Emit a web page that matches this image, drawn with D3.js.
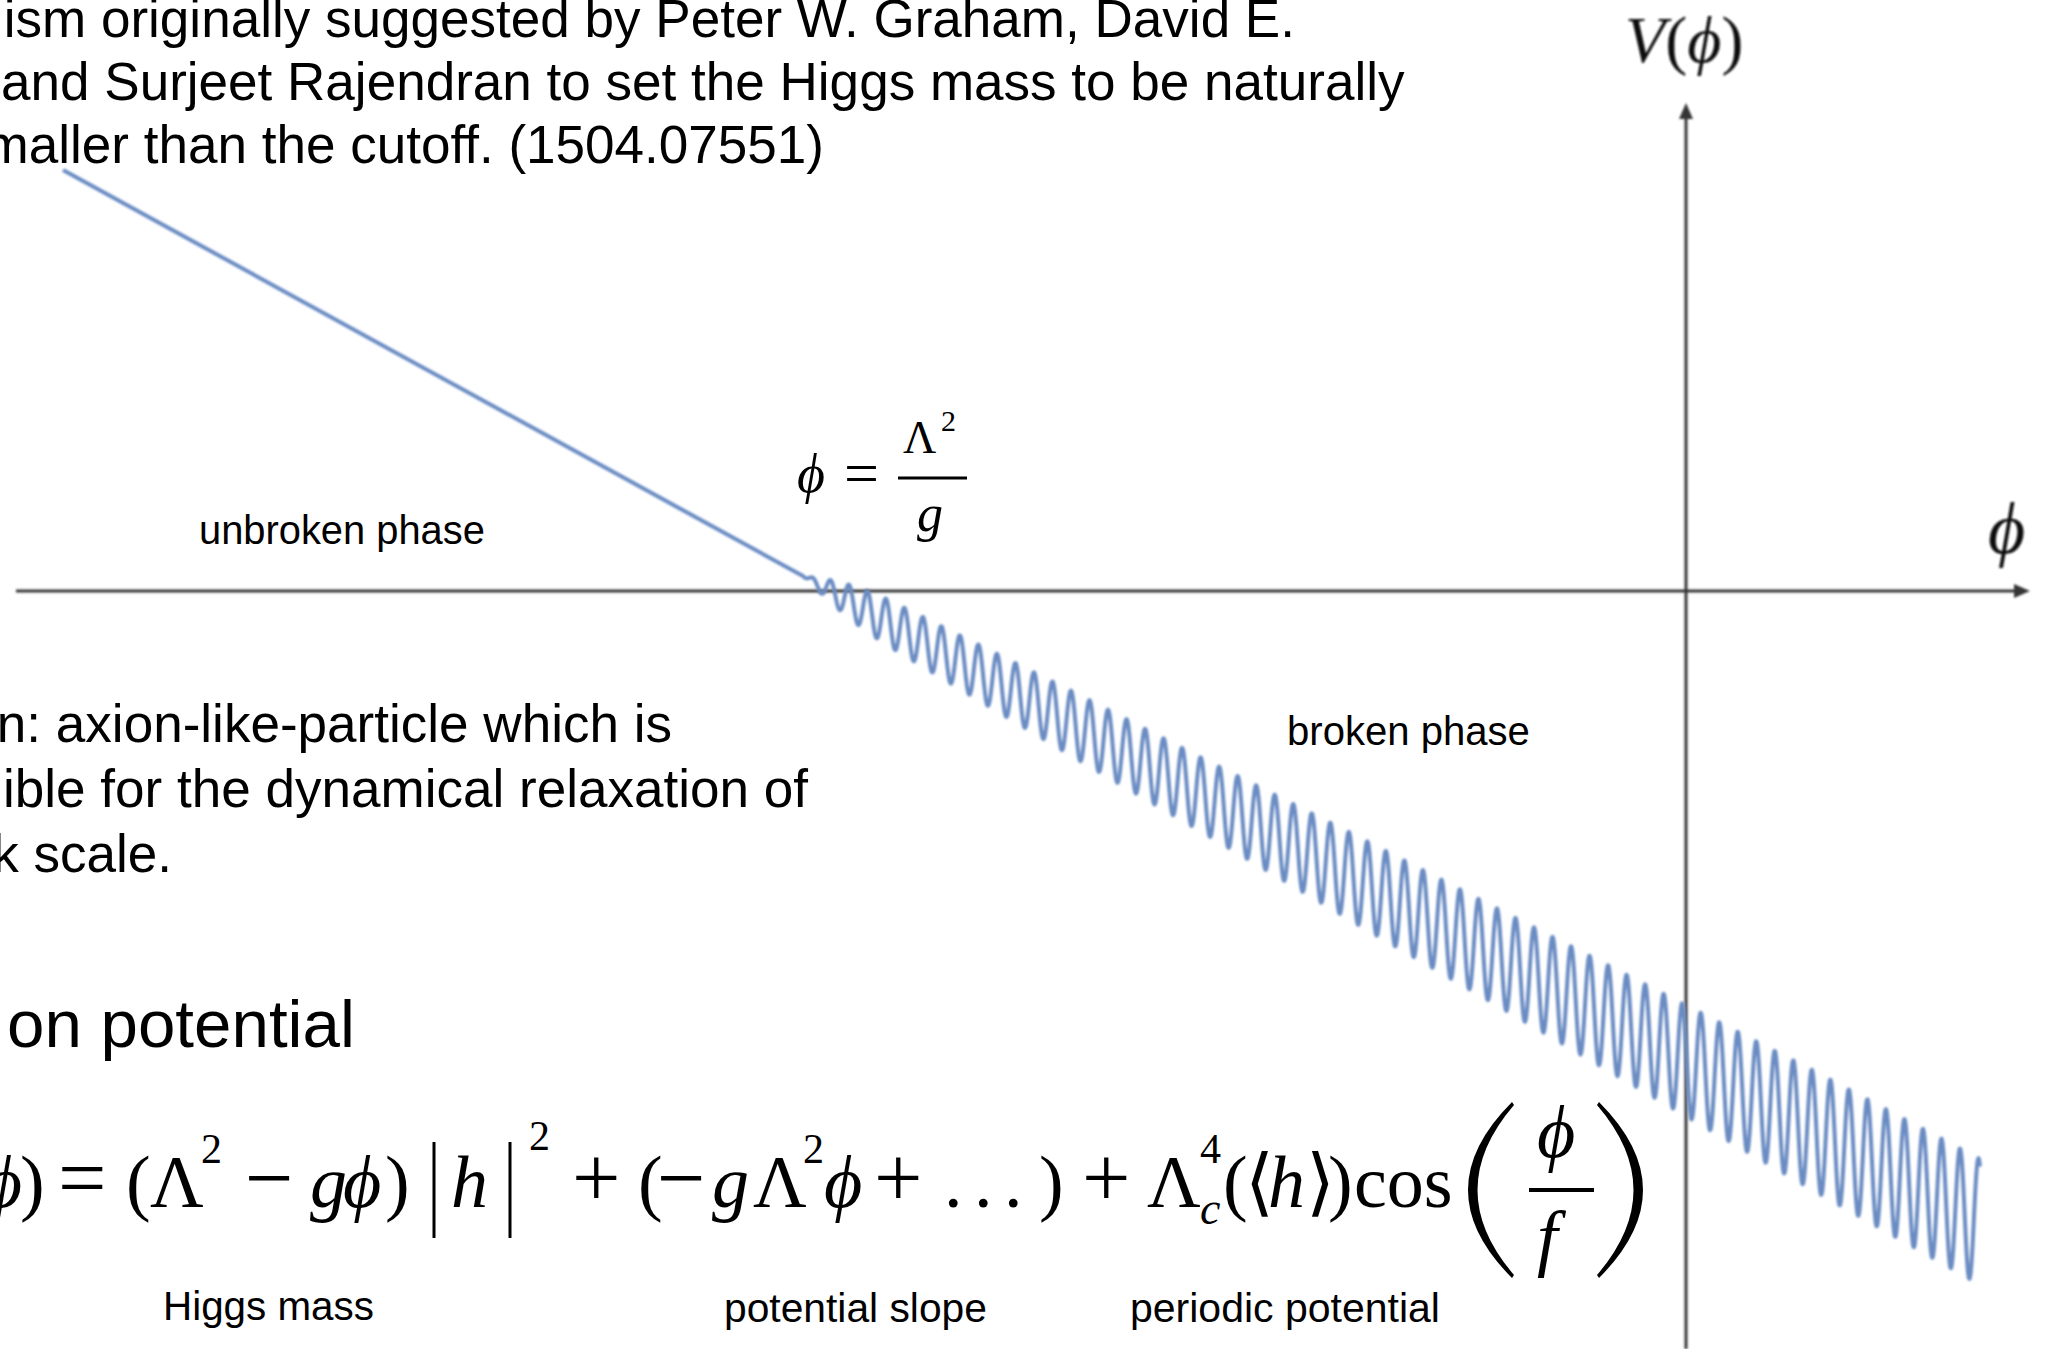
<!DOCTYPE html>
<html>
<head>
<meta charset="utf-8">
<script src="https://cdn.jsdelivr.net/npm/d3@7"></script>
<style>
  html, body { margin: 0; padding: 0; background: #fff; overflow: hidden; }
  svg { display: block; }
</style>
</head>
<body>
<svg id="chart" width="2045" height="1349"></svg>
<script>
// ---- relaxion potential V(ϕ) -------------------------------------------
// axis extents (the axes cross at ϕ = 0, V = 0)
const phiExtent = [-16.7, 3.44];
const vExtent = [-7.58, 4.88];
// slope term −gΛ²ϕ : end points of the drawn potential
const slopePhi = [-16.23, 2.94];
const slopeV = [4.21, -6.31];
// the periodic barrier switches on at ϕ = Λ²/g (Higgs gets a vev)
const onsetPhi = -8.83;
// cos(ϕ/f) : period and the position of one crest
const wigglePeriod = 0.1852;
const wiggleCrestPhi = -8.557;
// barrier height Λc⁴(⟨h⟩) along ϕ
const envelopePhi = [-8.83, -8.56, -8.38, -8.19, -8.00, -7.63, -6.15, -4.85, -3.19, -1.89, -0.97, 1.26, 2.74, 2.94];
const envelopeAmp = [0, 0.11, 0.165, 0.205, 0.23, 0.25, 0.325, 0.37, 0.445, 0.485, 0.52, 0.60, 0.625, 0.63];

// ---- slide text ---------------------------------------------------------
const introLines = [
  "ism originally suggested by Peter W. Graham, David E.",
  "and Surjeet Rajendran to set the Higgs mass to be naturally",
  "maller than the cutoff. (1504.07551)"
];
const relaxionLines = [
  "n: axion-like-particle which is",
  "ible for the dynamical relaxation of",
  "k scale."
];
const heading = "on potential";
const phaseLabels = ["unbroken phase", "broken phase"];
const termLabels = ["Higgs mass", "potential slope", "periodic potential"];

// -------------------------------------------------------------------------
const W = 2045, H = 1349;
const svg = d3.select("#chart");
svg.append("rect").attr("width", W).attr("height", H).attr("fill", "#fff");

const defs = svg.append("defs");
defs.append("filter").attr("id", "soft")
  .attr("x", "-5%").attr("y", "-5%").attr("width", "110%").attr("height", "110%")
  .append("feGaussianBlur").attr("stdDeviation", 0.8);

const x = d3.scaleLinear().domain(phiExtent).range([16, 2030]);
const y = d3.scaleLinear().domain(vExtent).range([H, 103]);
const slope = d3.scaleLinear().domain(slopePhi).range(slopeV);
const envelope = d3.scaleLinear().domain(envelopePhi).range(envelopeAmp).clamp(true);

const SANS = "'Liberation Sans', Arial, Helvetica, sans-serif";
const SERIF = "'Liberation Serif', 'Times New Roman', 'DejaVu Serif', serif";

// scale a text's font size so its advance matches a given width
function fitWidth(sel, width) {
  const w = sel.node().getComputedTextLength();
  const fs = parseFloat(sel.attr("font-size"));
  sel.attr("font-size", fs * width / w);
  return fs * width / w;
}

// ---- axes ----------------------------------------------------------------
const axes = svg.append("g").attr("filter", "url(#soft)");
const axisColor = "#363636";
const x0 = x(0), y0 = y(0);
axes.append("line")
  .attr("x1", x(phiExtent[0])).attr("x2", x(phiExtent[1]) - 8)
  .attr("y1", y0).attr("y2", y0)
  .attr("stroke", axisColor).attr("stroke-width", 3);
axes.append("path")
  .attr("d", `M${x(phiExtent[1])},${y0} L${x(phiExtent[1]) - 16},${y0 - 7} L${x(phiExtent[1]) - 16},${y0 + 7} Z`)
  .attr("fill", axisColor);
axes.append("line")
  .attr("x1", x0).attr("x2", x0)
  .attr("y1", y(vExtent[0])).attr("y2", y(vExtent[1]) + 8)
  .attr("stroke", axisColor).attr("stroke-width", 3);
axes.append("path")
  .attr("d", `M${x0},${y(vExtent[1])} L${x0 - 7},${y(vExtent[1]) + 16} L${x0 + 7},${y(vExtent[1]) + 16} Z`)
  .attr("fill", axisColor);

// ---- potential curve -----------------------------------------------------
const V = p => slope(p) + envelope(p) * Math.cos(2 * Math.PI * (p - wiggleCrestPhi) / wigglePeriod);
const pts = [[slopePhi[0], slopeV[0]]];
const step = (x.invert(1) - x.invert(0)) / 2;
for (let p = onsetPhi; p < slopePhi[1]; p += step) pts.push([p, V(p)]);
pts.push([slopePhi[1], V(slopePhi[1])]);

svg.append("path")
  .datum(pts)
  .attr("d", d3.line().x(d => x(d[0])).y(d => y(d[1])))
  .attr("fill", "none")
  .attr("stroke", "#6a8cc3")
  .attr("stroke-width", 4)
  .attr("stroke-linejoin", "round")
  .attr("filter", "url(#soft)");

// ---- body text -----------------------------------------------------------
const body = svg.append("g").attr("font-family", SANS).attr("fill", "#000");
const l2 = body.append("text").attr("x", 1).attr("y", 100).attr("font-size", 52).text(introLines[1]);
const bodySize = fitWidth(l2, 1404);
body.append("text").attr("x", 1295).attr("y", 37).attr("text-anchor", "end")
  .attr("font-size", bodySize).text(introLines[0]);
body.append("text").attr("x", 824).attr("y", 163).attr("text-anchor", "end")
  .attr("font-size", bodySize).text(introLines[2]);

const relaxY = [742, 807, 872];
const relaxEnd = [672, 808, 172];
relaxionLines.forEach((t, i) => {
  body.append("text").attr("x", relaxEnd[i]).attr("y", relaxY[i]).attr("text-anchor", "end")
    .attr("font-size", bodySize).text(t);
});

const head = body.append("text").attr("x", 7).attr("y", 1047).attr("font-size", 64).text(heading);
fitWidth(head, 348);

// small labels
const small = [
  { t: phaseLabels[0], x: 199, y: 544, w: 286 },
  { t: phaseLabels[1], x: 1287, y: 745, w: 243 },
  { t: termLabels[0], x: 163, y: 1320, w: 211 },
  { t: termLabels[1], x: 724, y: 1322, w: 263 },
  { t: termLabels[2], x: 1130, y: 1322, w: 310 }
];
small.forEach(s => {
  const el = body.append("text").attr("x", s.x).attr("y", s.y).attr("font-size", 40).text(s.t);
  fitWidth(el, s.w);
});

// ---- math ----------------------------------------------------------------
const math = svg.append("g").attr("font-family", SERIF).attr("fill", "#000");
function glyph(g, t, gx, gy, size, italic, anchor) {
  return g.append("text").attr("x", gx).attr("y", gy).attr("font-size", size)
    .attr("font-style", italic ? "italic" : "normal")
    .attr("text-anchor", anchor || "start").text(t);
}

// axis labels
const axisLabels = svg.append("g").attr("font-family", SERIF).attr("fill", "#111").attr("filter", "url(#soft)");
{
  const t = axisLabels.append("text").attr("x", 1625).attr("y", 62).attr("font-size", 66);
  t.append("tspan").attr("font-style", "italic").text("V");
  t.append("tspan").text("(");
  t.append("tspan").attr("font-style", "italic").text("ϕ");
  t.append("tspan").text(")");
}
glyph(axisLabels, "ϕ", 1988, 553, 72, true);

// ϕ = Λ²/g marker
glyph(math, "ϕ", 797, 492, 54, true);
glyph(math, "=", 844, 494, 62, false);
math.append("line").attr("x1", 898).attr("x2", 967).attr("y1", 478).attr("y2", 478)
  .attr("stroke", "#000").attr("stroke-width", 3);
glyph(math, "Λ", 903, 453, 46, false);
glyph(math, "2", 941, 431, 30, false);
glyph(math, "g", 917, 531, 52, true);

// V(ϕ) = (Λ² − gϕ)|h|² + (−gΛ²ϕ + …) + Λc⁴(⟨h⟩) cos(ϕ/f)
const B = 1207, S = 74, OP = 86, SUP = 42;
{
  const t = math.append("text").attr("x", 22).attr("y", B).attr("font-size", S).attr("text-anchor", "end");
  t.append("tspan").attr("font-style", "italic").text("V");
  t.append("tspan").text("(");
  t.append("tspan").attr("font-style", "italic").text("ϕ");
}
glyph(math, ")", 20, B, S, false);
glyph(math, "=", 58, B, OP, false);
glyph(math, "(", 126, B, S, false);
glyph(math, "Λ", 150, B, S, false);
glyph(math, "2", 201, 1163, SUP, false);
glyph(math, "−", 245, B, OP, false);
glyph(math, "g", 310, B, S, true);
glyph(math, "ϕ", 343, B, S, true);
glyph(math, ")", 385, B, S, false);
[434, 510].forEach(bx => {
  math.append("line").attr("x1", bx).attr("x2", bx).attr("y1", 1142).attr("y2", 1238)
    .attr("stroke", "#000").attr("stroke-width", 3);
});
glyph(math, "h", 451, B, S, true);
glyph(math, "2", 529, 1150, SUP, false);
glyph(math, "+", 572, B, OP, false);
glyph(math, "(", 638, B, S, false);
glyph(math, "−", 657, B, OP, false);
glyph(math, "g", 712, B, S, true);
glyph(math, "Λ", 753, B, S, false);
glyph(math, "2", 803, 1163, SUP, false);
glyph(math, "ϕ", 824, B, S, true);
glyph(math, "+", 874, B, OP, false);
[944, 974, 1004].forEach(dx => glyph(math, ".", dx, B, S, false));
glyph(math, ")", 1039, B, S, false);
glyph(math, "+", 1082, B, OP, false);
glyph(math, "Λ", 1147, B, S, false);
glyph(math, "4", 1200, 1163, SUP, false);
glyph(math, "c", 1200, 1224, SUP + 4, true);
glyph(math, "(", 1223, B, S, false);
glyph(math, "⟨", 1245, B, S, false);
glyph(math, "h", 1268, B, S, true);
glyph(math, "⟩", 1306, B, S, false);
glyph(math, ")", 1328, B, S, false);
glyph(math, "cos", 1354, B, S, false);
// large parentheses around the fraction
math.append("path")
  .attr("d", "M1512,1102 Q1424,1190 1512,1278 L1514,1275 Q1441,1190 1514,1105 Z");
math.append("path")
  .attr("d", "M1599,1102 Q1687,1190 1599,1278 L1597,1275 Q1670,1190 1597,1105 Z");
glyph(math, "ϕ", 1537, 1157, 74, true);
math.append("line").attr("x1", 1529).attr("x2", 1594).attr("y1", 1190).attr("y2", 1190)
  .attr("stroke", "#000").attr("stroke-width", 4);
glyph(math, "f", 1537, 1262, 74, true);
</script>
</body>
</html>
